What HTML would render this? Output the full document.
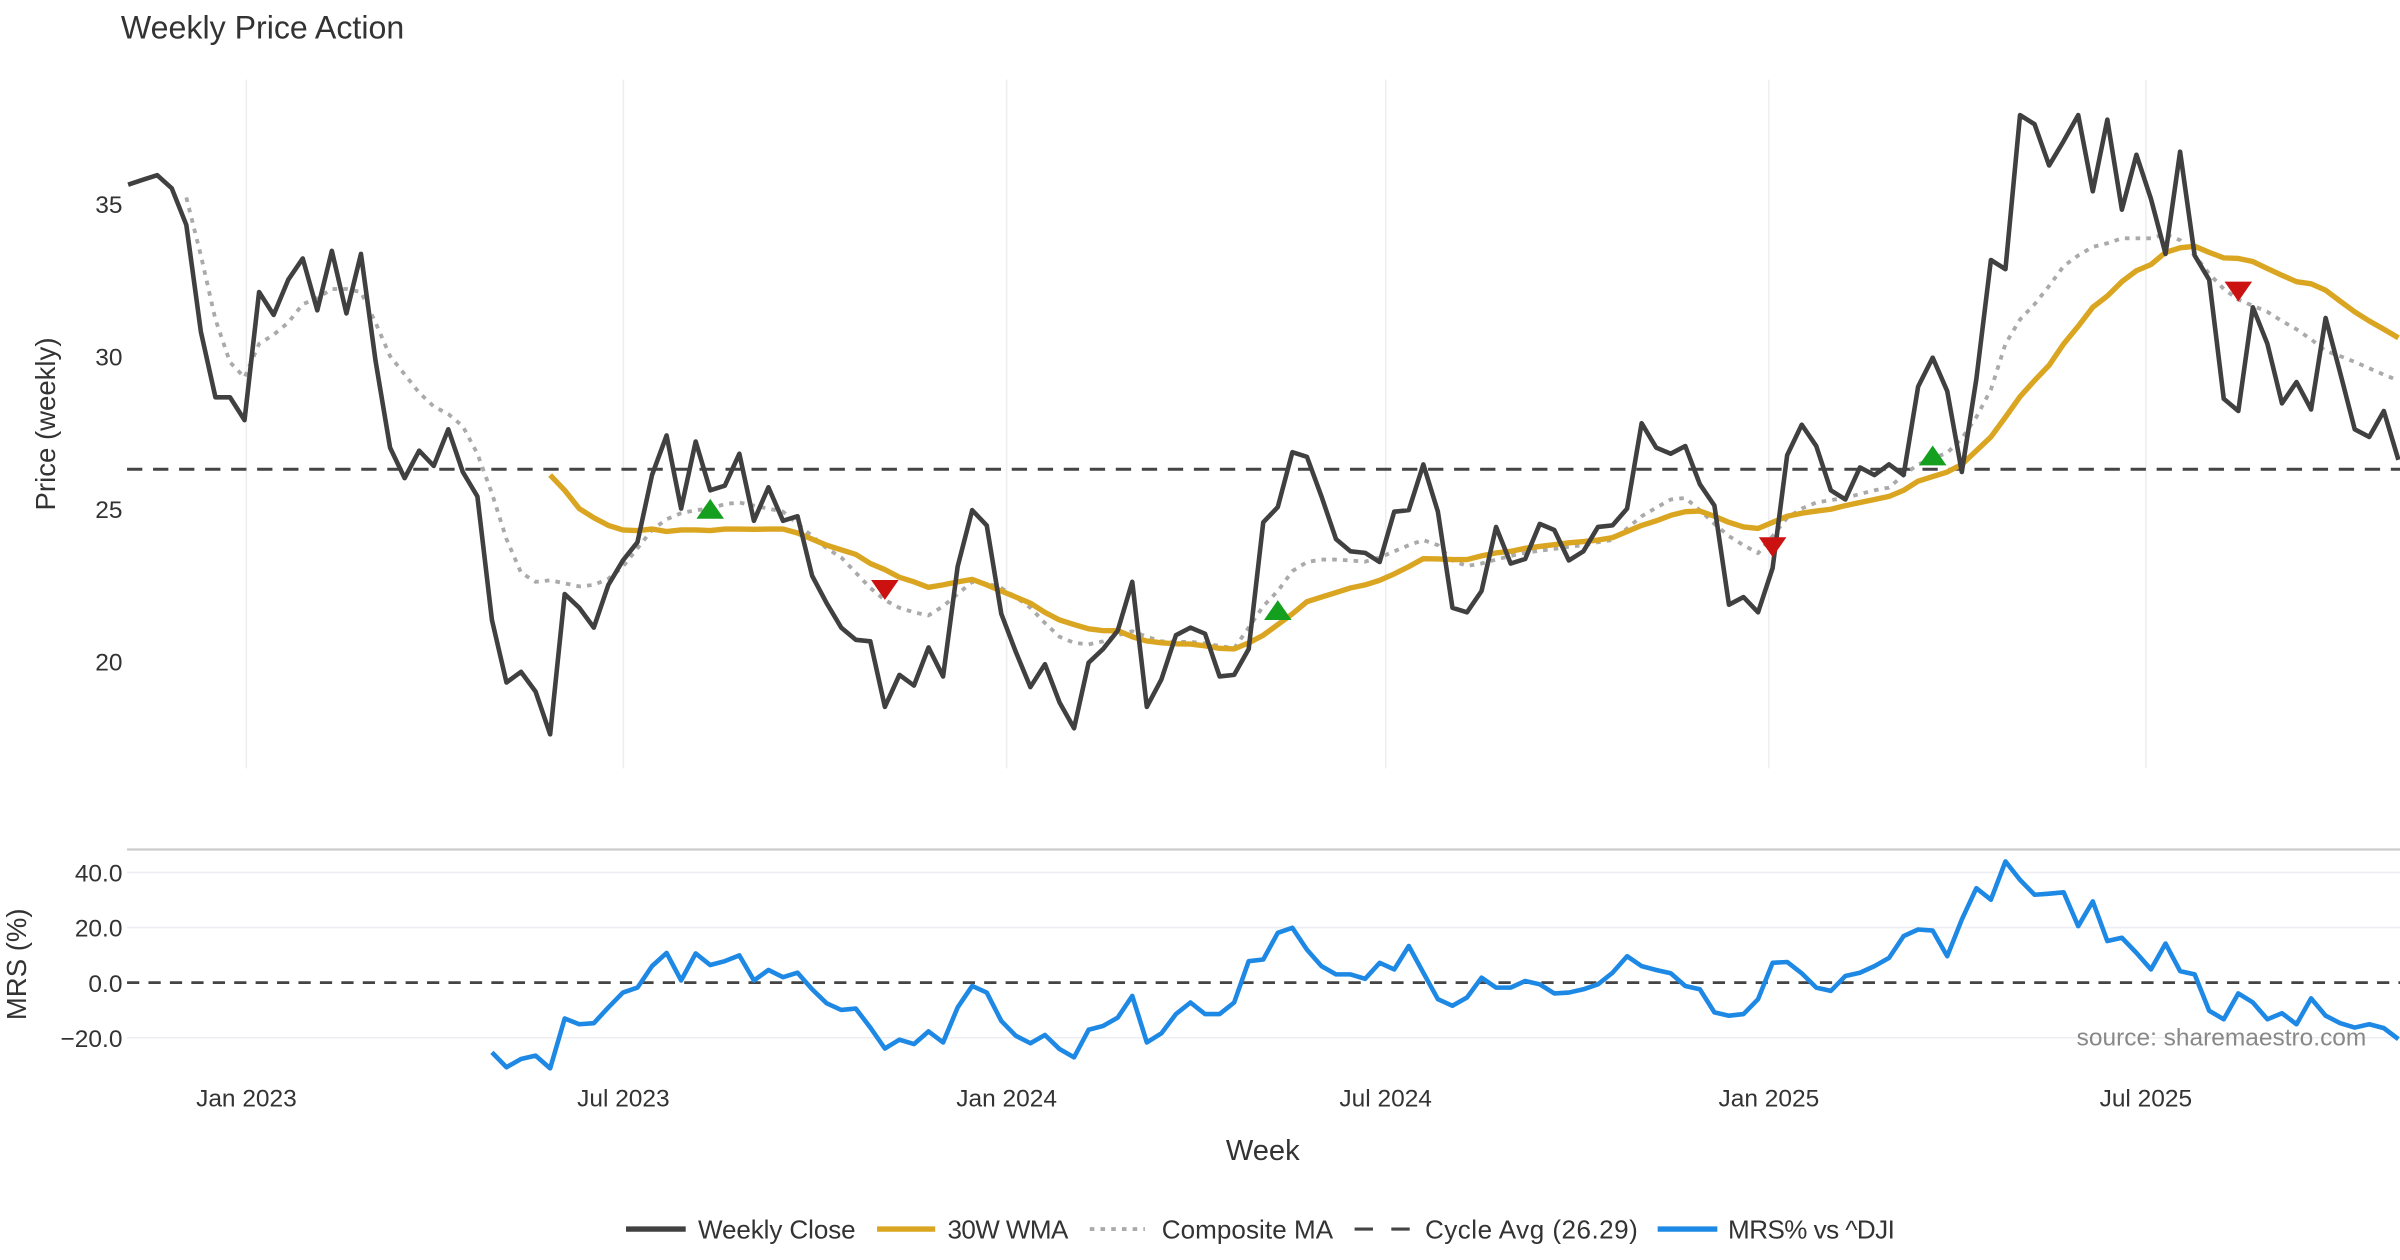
<!DOCTYPE html>
<html><head><meta charset="utf-8"><title>Weekly Price Action</title>
<style>
html,body{margin:0;padding:0;background:#fff;}
svg{display:block;font-family:"Liberation Sans","DejaVu Sans",sans-serif;}
</style></head>
<body>
<svg id="chart" width="2400" height="1260" viewBox="0 0 1568 823.2" xmlns="http://www.w3.org/2000/svg">
<rect x="0" y="0" width="1568" height="824" fill="#fff"/>
<text x="79" y="25" font-size="21" fill="#333">Weekly Price Action</text>
<g id="grid"></g>
<g id="main"></g>
<g id="mrs"></g>
<text transform="translate(36,277) rotate(-90)" text-anchor="middle" font-size="18" fill="#333">Price (weekly)</text>
<text transform="translate(17,630) rotate(-90)" text-anchor="middle" font-size="18" fill="#333">MRS (%)</text>
<text x="825" y="758" text-anchor="middle" font-size="19" fill="#333">Week</text>
<text x="1546" y="683" text-anchor="end" font-size="16" fill="#888">source: sharemaestro.com</text>
<g font-size="17" fill="#333">
  <g><line x1="409" y1="803" x2="448" y2="803" stroke="#404040" stroke-width="3.5"/><text x="456" y="809" textLength="103">Weekly Close</text></g>
  <g><line x1="573" y1="803" x2="611" y2="803" stroke="#DAA520" stroke-width="3.5"/><text x="619" y="809" textLength="79">30W WMA</text></g>
  <g><line x1="712" y1="803" x2="748" y2="803" stroke="#aaa" stroke-width="2.5" stroke-dasharray="3,4"/><text x="759" y="809" textLength="112">Composite MA</text></g>
  <g><line x1="885" y1="803" x2="921" y2="803" stroke="#444" stroke-width="2" stroke-dasharray="12,12"/><text x="931" y="809" textLength="139">Cycle Avg (26.29)</text></g>
  <g><line x1="1083" y1="803" x2="1122" y2="803" stroke="#1E88E5" stroke-width="3.5"/><text x="1129" y="809" textLength="109">MRS% vs ^DJI</text></g>
</g>
</svg>
<script>
const closeVals=[35.62,35.78,35.93,35.5,34.3,30.8,28.65,28.65,27.9,32.1,31.35,32.5,33.2,31.5,33.45,31.4,33.35,29.85,27.0,26.0,26.9,26.4,27.6,26.2,25.4,21.35,19.3,19.65,19.0,17.6,22.2,21.75,21.1,22.5,23.3,23.9,26.1,27.4,25.0,27.2,25.6,25.75,26.8,24.6,25.7,24.6,24.75,22.8,21.9,21.1,20.7,20.65,18.5,19.55,19.2,20.45,19.5,23.1,24.95,24.45,21.55,20.3,19.15,19.9,18.65,17.8,19.95,20.4,21.0,22.6,18.5,19.4,20.85,21.1,20.9,19.5,19.55,20.4,24.55,25.05,26.85,26.7,25.4,24.0,23.6,23.55,23.25,24.9,24.95,26.45,24.9,21.75,21.6,22.3,24.4,23.2,23.35,24.5,24.3,23.3,23.6,24.4,24.45,25.0,27.8,27.0,26.8,27.05,25.8,25.1,21.85,22.1,21.6,23.05,26.75,27.75,27.05,25.6,25.3,26.35,26.1,26.45,26.1,29.0,29.95,28.85,26.2,29.25,33.15,32.85,37.9,37.6,36.25,37.05,37.9,35.4,37.75,34.8,36.6,35.15,33.35,36.7,33.3,32.5,28.6,28.2,31.6,30.4,28.45,29.15,28.25,31.25,29.45,27.6,27.35,28.2,26.6];
const wmaStart=29;
const wmaVals=[26.1,25.6,25.0,24.7,24.45,24.3,24.28,24.33,24.25,24.3,24.3,24.28,24.33,24.33,24.32,24.33,24.33,24.2,24.0,23.8,23.65,23.5,23.2,23.0,22.75,22.6,22.42,22.5,22.6,22.68,22.5,22.3,22.1,21.9,21.6,21.35,21.2,21.06,21.0,21.0,20.8,20.66,20.6,20.57,20.56,20.5,20.42,20.4,20.6,20.85,21.2,21.55,21.95,22.1,22.25,22.4,22.5,22.65,22.86,23.1,23.36,23.35,23.33,23.33,23.45,23.55,23.6,23.7,23.76,23.82,23.88,23.92,23.97,24.05,24.25,24.45,24.6,24.78,24.9,24.92,24.75,24.55,24.4,24.35,24.55,24.75,24.85,24.92,24.98,25.1,25.2,25.3,25.4,25.6,25.9,26.05,26.2,26.45,26.9,27.35,28.0,28.67,29.2,29.7,30.4,30.98,31.6,31.97,32.44,32.8,33.0,33.4,33.55,33.6,33.4,33.22,33.2,33.1,32.87,32.65,32.44,32.37,32.16,31.8,31.45,31.15,30.88,30.6];
const compStart=4;
const compVals=[35.2,33.3,31.2,29.8,29.3,30.4,30.7,31.1,31.7,31.9,32.2,32.2,32.1,31.1,30.0,29.4,28.8,28.35,28.1,27.7,26.8,25.5,24.0,22.9,22.6,22.65,22.55,22.45,22.5,22.7,23.1,23.7,24.3,24.65,24.85,24.95,25.0,25.15,25.2,25.1,25.0,24.9,24.5,24.1,23.7,23.4,22.9,22.4,22.0,21.75,21.6,21.5,21.8,22.2,22.6,22.55,22.4,22.1,21.75,21.25,20.8,20.6,20.55,20.65,20.85,20.98,20.8,20.65,20.63,20.63,20.58,20.5,20.42,21.1,21.8,22.3,22.95,23.25,23.33,23.33,23.3,23.26,23.4,23.6,23.8,23.97,23.8,23.3,23.12,23.2,23.33,23.45,23.55,23.62,23.68,23.75,23.8,23.9,23.97,24.35,24.75,25.03,25.3,25.35,24.95,24.5,24.1,23.8,23.54,24.1,24.7,25.0,25.2,25.28,25.35,25.48,25.6,25.69,26.1,26.45,26.65,26.83,27.3,28.0,28.9,30.4,31.2,31.7,32.3,32.95,33.3,33.58,33.7,33.86,33.86,33.86,34.0,33.8,33.3,32.7,32.2,31.85,31.65,31.45,31.15,30.88,30.55,30.17,30.0,29.81,29.6,29.39,29.2];
const mrsStart=25;
const mrsVals=[-25.3,-30.7,-27.7,-26.5,-31.1,-13.0,-15.1,-14.7,-9.0,-3.6,-1.8,6.0,10.8,0.8,10.6,6.4,7.8,9.9,0.8,4.6,2.0,3.6,-2.4,-7.5,-9.9,-9.4,-16.3,-23.9,-20.7,-22.3,-17.7,-21.7,-9.0,-1.2,-3.6,-13.9,-19.3,-22.0,-19.0,-24.1,-27.1,-17.1,-15.7,-12.7,-4.8,-21.7,-18.4,-11.4,-7.2,-11.4,-11.4,-7.2,7.8,8.4,18.1,19.9,12.0,6.0,3.0,3.0,1.4,7.2,4.8,13.3,3.6,-6.0,-8.4,-5.4,1.8,-1.8,-1.8,0.6,-0.6,-3.9,-3.6,-2.4,-0.6,3.6,9.6,6.0,4.6,3.4,-1.2,-2.4,-10.8,-12.0,-11.4,-6.0,7.2,7.5,3.4,-1.8,-3.0,2.4,3.6,6.0,9.0,16.9,19.3,18.9,9.6,22.9,34.3,30.1,44.0,37.3,31.9,32.3,32.8,20.5,29.5,15.1,16.3,10.8,4.8,14.2,4.2,3.0,-10.2,-13.3,-3.9,-7.2,-13.3,-11.1,-15.1,-5.7,-12.0,-14.7,-16.3,-15.1,-16.5,-20.5];
const cycleAvg=26.29;
const buyIdx=[40,79,124];
const buyVals=[24.97,21.65,26.72];
const sellIdx=[52,113,145];
const sellVals=[22.36,23.76,32.14];
const priceTicks=[20,25,30,35];
const mrsTicks=[-20,0,20,40];
const mrsTickLabels=["−20.0","0.0","20.0","40.0"];
const xTickLabels=["Jan 2023","Jul 2023","Jan 2024","Jul 2024","Jan 2025","Jul 2025"];
const xTickDates=["2023-01-01","2023-07-01","2024-01-01","2024-07-01","2025-01-01","2025-07-01"];
const axisOriginDate="2023-01-01";

const NS="http://www.w3.org/2000/svg";
const X0=83.7, STEP=9.508, PL=83, PR=1568;
const xIdx=i=>X0+i*STEP;
const xDate=s=>161+((Date.parse(s)-Date.parse(axisOriginDate))/86400000)*1.3607;
const yP=v=>133+(35-v)*19.93;
const yM=v=>642-v*1.8;
function mk(parent,tag,attrs){const e=document.createElementNS(NS,tag);for(const k in attrs)e.setAttribute(k,attrs[k]);parent.appendChild(e);return e;}
const grid=document.getElementById('grid'),main=document.getElementById('main'),mrs=document.getElementById('mrs');

xTickDates.forEach((d,k)=>{
  const x=xDate(d);
  const g=mk(grid,'line',{x1:x,y1:52,x2:x,y2:502,stroke:'#eceef2','stroke-width':1});
  
  
  const t=mk(grid,'text',{x:x,y:723,'text-anchor':'middle','font-size':16,fill:'#333'});
  t.textContent=xTickLabels[k];
  
  
});
priceTicks.forEach(v=>{
  const t=mk(grid,'text',{x:80,y:yP(v)+6,'text-anchor':'end','font-size':16,fill:'#333'});
  t.textContent=String(v);
  
  
});
const sep=mk(mrs,'line',{x1:PL,y1:555,x2:PR,y2:555,stroke:'#ccc','stroke-width':1.5});


mrsTicks.forEach((v,k)=>{
  if(v!==0){const l=mk(mrs,'line',{x1:PL,y1:yM(v),x2:PR,y2:yM(v),stroke:'#eceef2','stroke-width':1});
  
  }
  const t=mk(mrs,'text',{x:80,y:yM(v)+6,'text-anchor':'end','font-size':16,fill:'#333'});
  t.textContent=mrsTickLabels[k];
  
  
});
function path(parent,vals,start,yf,attrs,name){
  const d=vals.map((v,i)=>(i?'L':'M')+xIdx(i+start).toFixed(2)+' '+yf(v).toFixed(2)).join(' ');
  const p=mk(parent,'path',Object.assign({d:d,fill:'none','stroke-linejoin':'round'},attrs));
  
  
  return p;
}
const cy=mk(main,'line',{x1:PL,y1:yP(cycleAvg),x2:PR,y2:yP(cycleAvg),stroke:'#444','stroke-width':2,'stroke-dasharray':'10,7'});


path(main,compVals,compStart,yP,{stroke:'#aaa','stroke-width':2.5,'stroke-dasharray':'3,4'},'composite-ma-line');
path(main,wmaVals,wmaStart,yP,{stroke:'#DAA520','stroke-width':3.5},'wma-line');
path(main,closeVals,0,yP,{stroke:'#404040','stroke-width':3},'weekly-close-line');
buyIdx.forEach((i,k)=>{
  const x=xIdx(i),y=yP(buyVals[k]);
  const p=mk(main,'path',{d:`M${x-9} ${y+6} L${x+9} ${y+6} L${x} ${y-7} Z`,fill:'#14a01e'});
  
  
});
sellIdx.forEach((i,k)=>{
  const x=xIdx(i),y=yP(sellVals[k]);
  const p=mk(main,'path',{d:`M${x-9} ${y-6} L${x+9} ${y-6} L${x} ${y+7} Z`,fill:'#cc1111'});
  
  
});
const zl=mk(mrs,'line',{x1:PL,y1:yM(0),x2:PR,y2:yM(0),stroke:'#444','stroke-width':1.8,'stroke-dasharray':'8,6'});


path(mrs,mrsVals,mrsStart,yM,{stroke:'#1E88E5','stroke-width':3},'mrs-line');
</script>
</body></html>
